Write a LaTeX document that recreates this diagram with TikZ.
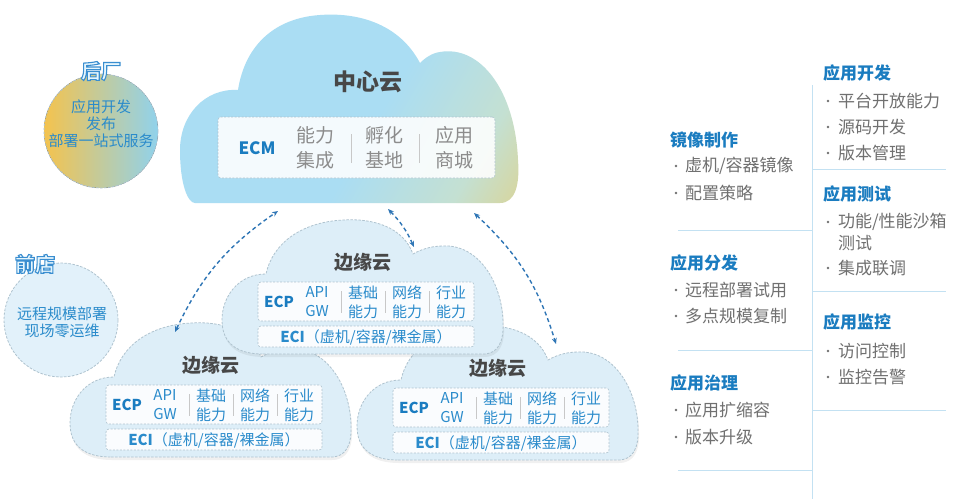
\documentclass[tikz,border=0pt]{standalone}
\usepackage{fontspec}
\setmainfont{Noto Sans CJK SC}
\usetikzlibrary{arrows.meta}
\definecolor{cblue}{HTML}{AADDF3}
\definecolor{cgreen}{HTML}{C4E0D2}
\definecolor{cyellow}{HTML}{E3CF7E}
\definecolor{hblue}{HTML}{1A7CC0}
\definecolor{tblue}{HTML}{2A8BCB}
\definecolor{tgray}{HTML}{707070}
\definecolor{dgray}{HTML}{474747}
\definecolor{lgray}{HTML}{8C8C8C}
\definecolor{sepgray}{HTML}{C8C8C8}
\definecolor{lineblue}{HTML}{C3E1F2}
\definecolor{ecfill}{HTML}{DDEEF8}
\definecolor{ecline}{HTML}{AFC3CF}
\definecolor{arrowblue}{HTML}{2F76B6}
\definecolor{orangey}{HTML}{F4C34E}
\definecolor{circblue}{HTML}{90D2EC}
\definecolor{qfill}{HTML}{E2F1FA}
\definecolor{inlight}{HTML}{E6F6FD}
\pgfdeclarehorizontalshading{cloudshade}{100bp}{color(0bp)=(cblue); color(55bp)=(cblue); color(74bp)=(cgreen); color(90bp)=(cyellow); color(100bp)=(cyellow)}
\newcommand\fsz[2]{\fontsize{#1pt}{#2pt}\selectfont}
\newcommand\outlinetext[1]{\special{pdf:literal direct 2 Tr 1.1 w 0.227 0.557 0.816 RG}#1\special{pdf:literal direct 0 Tr}}
\tikzset{
  every node/.style={inner sep=0pt, outer sep=0pt},
  innerbox/.style={fill=white, fill opacity=0.88, draw=ecline, line width=0.6pt, dash pattern=on 2pt off 1.5pt, rounded corners=3pt},
  ecshape/.style={fill=ecfill, draw=ecline, line width=0.8pt, dash pattern=on 2.5pt off 1.5pt},
  ectitle/.style={text=dgray, font=\fsz{19}{22}\bfseries},
  ectext/.style={text=tblue, align=center, font=\fsz{15}{19}},
  ecbold/.style={text=hblue, font=\fsz{15}{19}\bfseries},
  sepline/.style={draw=sepgray, line width=0.8pt},
  hd/.style={anchor=west, text=hblue, font=\fsz{17}{20}\bfseries},
  itm/.style={anchor=west, text=tgray, font=\fsz{17}{20}},
  panelline/.style={draw=lineblue, line width=1pt},
  dashar/.style={draw=arrowblue, line width=1.4pt, dash pattern=on 4pt off 3pt, {Stealth[length=6pt,width=5pt]}-{Stealth[length=6pt,width=5pt]}},
  circtext/.style={text=tblue, align=center, font=\fsz{15}{17}},
  inl/.style={text=inlight, font=\fsz{20}{22}\bfseries},
}
\def\ecpath{(5,72) -- (225,72) .. controls (240,72) and (246,60) .. (245,40) .. controls (244,0) and (220,-38) .. (185,-36) .. controls (172,-36) and (162,-32) .. (155,-28) .. controls (145,-55) and (115,-64) .. (85,-62) .. controls (45,-60) and (15,-40) .. (8,-8) .. controls (-20,-8) and (-36,15) .. (-36,38) .. controls (-36,62) and (-20,72) .. (5,72) -- cycle}
\newcommand\edgecloud[3]{%
\begin{scope}[shift={(#2,#3)}]
\fill[black,opacity=0.06,shift={(1,3)}] \ecpath;
\path[ecshape] \ecpath;
\node[ectitle] (#1-title) at (105,-20) {边缘云};
\node[innerbox, minimum width=216pt, minimum height=39pt, anchor=north west] (#1-ecp) at (0,0) {};
\node[innerbox, minimum width=216pt, minimum height=21pt, anchor=north west] (#1-eci) at (0,44) {};
\node[ecbold] (#1-ecplabel) at (21,20) {ECP};
\node[ectext] (#1-api) at (59,20) {API\\GW};
\node[ectext] (#1-base) at (105,20) {基础\\能力};
\node[ectext] (#1-net) at (149,20) {网络\\能力};
\node[ectext] (#1-ind) at (193,20) {行业\\能力};
\draw[sepline] (83,9) -- (83,31);
\draw[sepline] (127,9) -- (127,31);
\draw[sepline] (171,9) -- (171,31);
\node[ectext] (#1-ecitext) at (108,55) {\textbf{ECI}（虚机/容器/裸金属）};
\end{scope}}
\begin{document}
\begin{tikzpicture}[x=1pt,y=-1pt]
\useasboundingbox (0,0) rectangle (955,499);
\fill[white] (0,0) rectangle (955,499);
% central cloud
\path[shading=cloudshade, shading angle=-30] (195,203) -- (500,203) .. controls (515,203) and (520,185) .. (518,160) .. controls (515,90) and (480,45) .. (440,52) .. controls (432,53) and (425,58) .. (420,63) .. controls (400,25) and (360,12) .. (320,15) .. controls (275,18) and (245,45) .. (238,90) .. controls (205,88) and (180,115) .. (180,150) .. controls (180,185) and (188,203) .. (195,203) -- cycle;
\node[text=dgray, font=\fsz{23}{26}\bfseries] (center-title) at (368,82) {中心云};
\node[innerbox, minimum width=277pt, minimum height=61pt, anchor=north west] (ecmbox) at (218,117) {};
\node[text=hblue, font=\fsz{17}{20}\bfseries] (ecm) at (257,148) {ECM};
\node[text=lgray, align=center, font=\fsz{19}{25}] (cap1) at (315,148) {能力\\集成};
\node[text=lgray, align=center, font=\fsz{19}{25}] (cap2) at (384,148) {孵化\\基地};
\node[text=lgray, align=center, font=\fsz{19}{25}] (cap3) at (454,148) {应用\\商城};
\draw[sepline] (351,134) -- (351,163);
\draw[sepline] (419,134) -- (419,163);
% left circles
\draw[white, line width=4pt] (101,131) circle (58);
\fill[left color=orangey, right color=circblue] (101,131) circle (57);
\draw[ecline, line width=0.8pt, dash pattern=on 2.5pt off 1.5pt] (101,131) circle (57);
\node[circtext] (back-text) at (101,124) {应用开发\\发布\\部署一站式服务};
\node[inl] (back-label) at (101,71) {\outlinetext{后厂}};
\draw[white, line width=4pt] (61,320) circle (58);
\fill[qfill] (61,320) circle (57);
\draw[ecline, line width=0.8pt, dash pattern=on 2.5pt off 1.5pt] (61,320) circle (57);
\node[circtext] (front-text) at (62,322) {远程规模部署\\现场零运维};
\node[inl] (front-label) at (35,264) {\outlinetext{前店}};
% edge clouds
\edgecloud{e2}{106}{385}
\edgecloud{e3}{393}{388}
\edgecloud{e1}{258}{282}
% arrows
\coordinate (aL1) at (278,211);
\coordinate (aL2) at (175,332);
\coordinate (aM1) at (388,209);
\coordinate (aM2) at (414,247);
\coordinate (aR1) at (474,213);
\coordinate (aR2) at (556,344);
\draw[dashar] (aL2) to[bend left=15] (aL1);
\draw[dashar] (aM1) to[bend left=10] (aM2);
\draw[dashar] (aR1) to[bend left=15] (aR2);
% right panel lines
\draw[panelline] (812,85) -- (812,499);
\draw[panelline] (678,230) -- (812,230);
\draw[panelline] (678,350) -- (812,350);
\draw[panelline] (678,470) -- (812,470);
\draw[panelline] (812,169) -- (946,169);
\draw[panelline] (812,291) -- (946,291);
\draw[panelline] (812,410) -- (946,410);
% left column
\node[hd] (h1) at (670,140) {镜像制作};
\node[itm] (i11) at (685,166) {虚机/容器镜像};
\node[itm] (i12) at (685,193) {配置策略};
\node[hd] (h2) at (670,263) {应用分发};
\node[itm] (i21) at (685,290) {远程部署试用};
\node[itm] (i22) at (685,316) {多点规模复制};
\node[hd] (h3) at (670,383) {应用治理};
\node[itm] (i31) at (685,410) {应用扩缩容};
\node[itm] (i32) at (685,437) {版本升级};
\foreach \y in {166,193,290,316,410,437} \fill[tgray] (676,\y) circle (1.4);
% right column
\node[hd] (h4) at (823,73) {应用开发};
\node[itm] (i41) at (838,101) {平台开放能力};
\node[itm] (i42) at (838,127) {源码开发};
\node[itm] (i43) at (838,153) {版本管理};
\node[hd] (h5) at (823,194) {应用测试};
\node[itm] (i51) at (838,222) {功能/性能沙箱};
\node[itm] (i52) at (838,243) {测试};
\node[itm] (i53) at (838,268) {集成联调};
\node[hd] (h6) at (823,322) {应用监控};
\node[itm] (i61) at (838,351) {访问控制};
\node[itm] (i62) at (838,377) {监控告警};
\foreach \y in {101,127,153,222,268,351,377} \fill[tgray] (828,\y) circle (1.4);
\end{tikzpicture}
\end{document}
